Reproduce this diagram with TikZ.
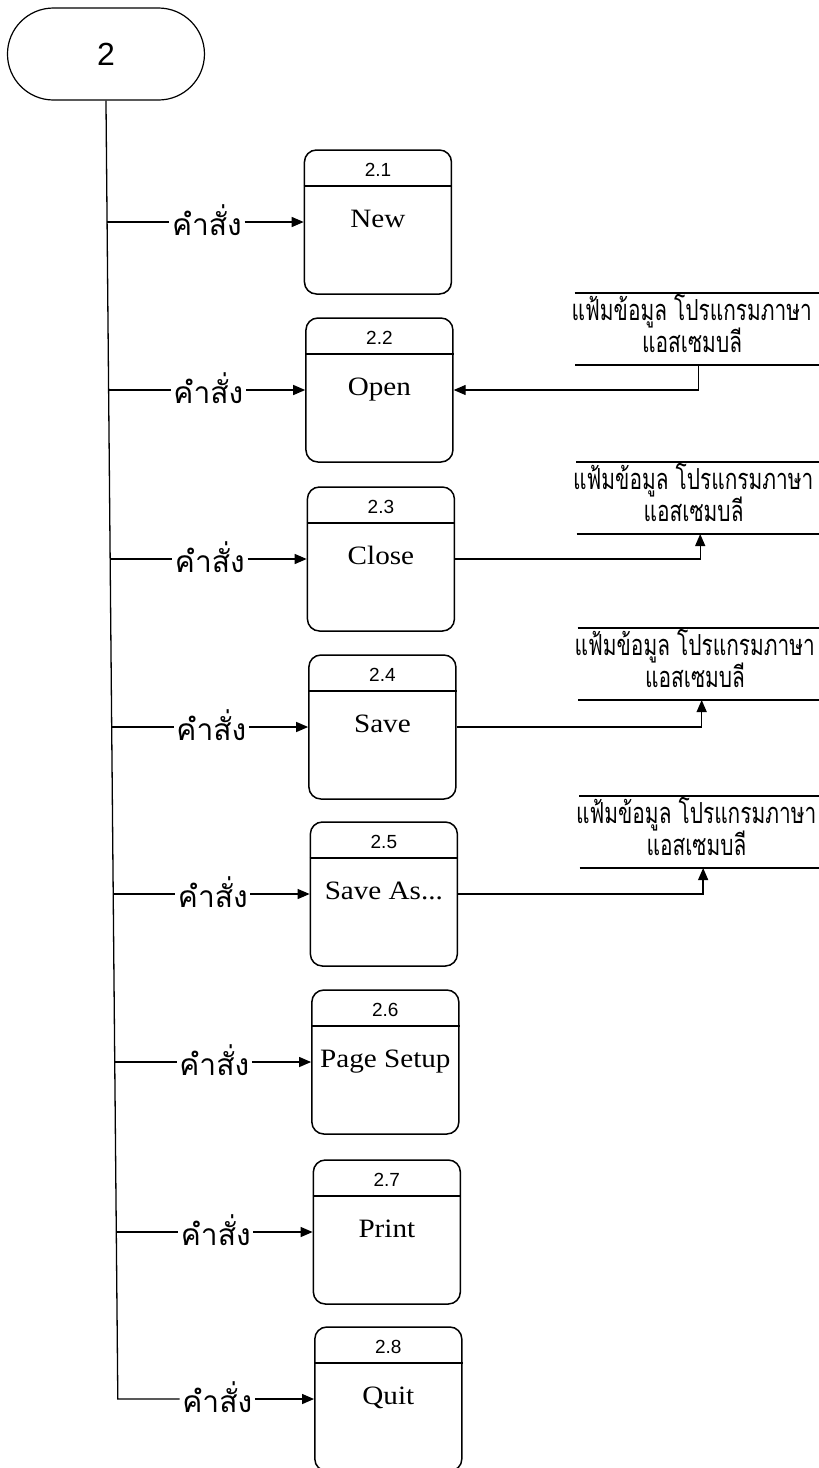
\documentclass[tikz,border=0pt]{standalone}
\usepackage{fontspec}
\setmainfont{Liberation Serif}
\newfontfamily\thaifont[Script=Thai]{Loma}
\newfontfamily\storefont[Script=Thai,FakeStretch=0.72]{Loma}
\newfontfamily\numfont{Liberation Sans}
\newfontfamily\namefont[FakeStretch=1.1]{Liberation Serif}
\usetikzlibrary{arrows.meta,calc}

\begin{document}
\begin{tikzpicture}[
  x=1pt, y={(0.0088pt,-1pt)},
  line width=1.3pt,
  arr/.style={-{Triangle[length=12pt,width=10pt]}},
  term/.style={draw, line width=1.2pt, rounded corners=46pt, minimum width=197pt,
    minimum height=92pt, inner sep=0pt, font=\numfont\fontsize{32}{32}\selectfont},
  proc/.style={draw, line width=1.5pt, rounded corners=12pt, minimum width=147pt,
    minimum height=144pt, inner sep=0pt},
  numlab/.style={anchor=base, inner sep=0pt, font=\numfont\fontsize{19}{19}\selectfont},
  namelab/.style={anchor=base, inner sep=0pt, font=\namefont\fontsize{26.5}{26.5}\selectfont},
  cmd/.style={inner xsep=2pt, inner ysep=0pt, text height=29pt, text depth=2pt,
    font=\thaifont\fontsize{30}{30}\selectfont},
  storetext/.style={anchor=base, inner sep=0pt, font=\storefont\fontsize{29}{29}\selectfont},
]
\useasboundingbox (0pt,0pt) rectangle (819pt,-1468pt);

% top-level process 2
\node[term] (t) at (105.5,54) {2};
\coordinate (corner) at (105.5,1399);

% sub-processes 2.1 -- 2.8 with their command flows
\foreach \i/\cy/\name in {1/222/New, 2/390/Open, 3/559/Close, 4/727/Save,
    5/894/{Save As.{}.{}.}, 6/1062/Page Setup, 7/1232/Print, 8/1399/Quit}{
  \node[proc] (b\i) at (376,\cy) {};
  \draw[line width=1.5pt] ($(b\i.north west)+(0pt,-36.5pt)$) -- ($(b\i.north east)+(0pt,-36.5pt)$);
  \node[numlab] (n\i) at ($(b\i.north)+(0pt,-27pt)$) {2.\i};
  \node[namelab] (m\i) at ($(b\i.center)+(0pt,-5pt)$) {\name};
  \node[cmd] (c\i) at (205,\cy) {คำสั่ง};
  \draw[arr] (c\i.east) -- (b\i.west);
  \ifnum\i<8
    \coordinate (j\i) at (105.5,\cy);
    \draw (j\i) -- (c\i.west);
  \fi
}

% trunk from process 2 down to the last command
\draw (t.south) -- (corner) -- (c8.west);

% data stores (open-ended at the right)
\foreach \k/\top in {1/293, 2/462, 3/628, 4/796}{
  \draw (572,\top) -- (830,\top);
  \draw (572,\top+72) -- (830,\top+72);
  \node[storetext] (s\k) at (689,\top+27) {แฟ้มข้อมูล โปรแกรมภาษา};
  \node[storetext] (r\k) at (689,\top+59) {แอสเซมบลี};
  \coordinate (d\k) at (695.5,\top+72);
}

% read from store into 2.2, writes from 2.3 -- 2.5
\draw[arr] (d1) |- (b2.east);
\draw[arr] (b3.east) -| (d2);
\draw[arr] (b4.east) -| (d3);
\draw[arr] (b5.east) -| (d4);
\end{tikzpicture}
\end{document}
